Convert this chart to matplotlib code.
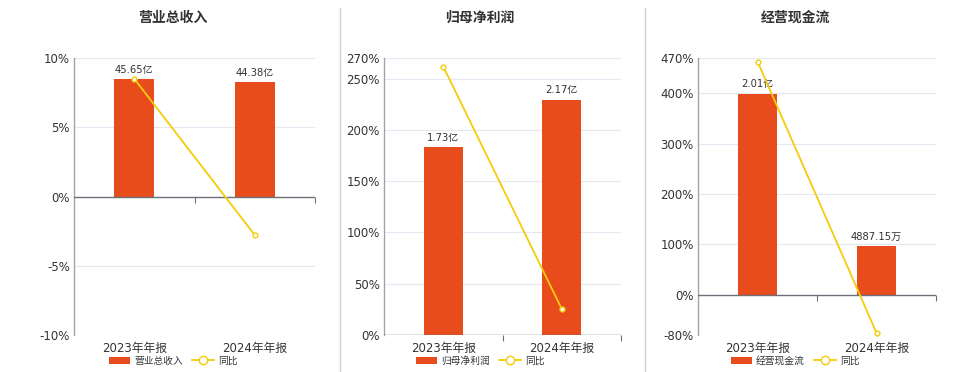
import numpy as np
import matplotlib
matplotlib.use('Agg')
import matplotlib.pyplot as plt
from matplotlib.patches import Patch
from matplotlib.lines import Line2D

plt.rcParams['font.family'] = ['DejaVu Sans', 'Noto Sans CJK SC']
plt.rcParams['axes.unicode_minus'] = False

categories = ['2023年年报', '2024年年报']
titles = ['营业总收入', '归母净利润', '经营现金流']

revenue = [45.65, 44.38]
revenue_labels = ['45.65亿', '44.38亿']
revenue_yoy = [8.5, -2.78]

profit = [1.73, 2.17]
profit_labels = ['1.73亿', '2.17亿']
profit_yoy = [261.7, 25.43]

cash = [2.01, 0.488715]
cash_labels = ['2.01亿', '4887.15万']
cash_yoy = [463.0, -75.69]

ticks_revenue = [-10, -5, 0, 5, 10]
ticks_profit = [0, 50, 100, 150, 200, 250, 270]
ticks_cash = [-80, 0, 100, 200, 300, 400, 470]

bar_color = '#E84C1D'
line_color = '#F5CC0A'
grid_color = '#E3E8F2'
text_color = '#333333'
axis_color = '#6E7079'

fig = plt.figure(figsize=(9.6, 3.72), dpi=100)
W, H = 960, 372

panels = [
    (revenue, revenue_labels, revenue_yoy, ticks_revenue, (74, 315), 173),
    (profit, profit_labels, profit_yoy, ticks_profit, (384, 621), 480),
    (cash, cash_labels, cash_yoy, ticks_cash, (698, 936), 795),
]

x = np.arange(len(categories))
for i, (vals, labels, yoy, ticks, (l, r), cx) in enumerate(panels):
    ax = fig.add_axes([l / W, 1 - 335 / H, (r - l) / W, (335 - 58) / H])
    ymin, ymax = ticks[0], ticks[-1]
    ax.set_ylim(ymin, ymax)
    ax.set_xlim(-0.5, 1.5)
    ax.set_yticks(ticks)
    ax.set_yticklabels([f'{t}%' for t in ticks])
    for t in ticks:
        ax.axhline(t, color=grid_color, lw=0.8, zorder=0)
    for s in ['top', 'right', 'bottom']:
        ax.spines[s].set_visible(False)
    ax.spines['left'].set_color('#A0A4B0')
    ax.spines['left'].set_linewidth(1.0)
    ax.tick_params(axis='y', length=0, labelsize=8.5, colors=text_color, pad=3)
    ax.set_xticks(x)
    ax.set_xticklabels(categories)
    ax.tick_params(axis='x', length=0, labelsize=8.5, colors=text_color, pad=5)

    # bars on a twin scale, zero aligned with the percent axis
    axb = ax.twinx()
    top = max(vals) / 0.85
    axb.set_ylim(top * ymin / ymax, top)
    axb.axis('off')
    axb.bar(x, vals, width=0.33, color=bar_color, zorder=2)
    for xi, v, lab in zip(x, vals, labels):
        axb.annotate(lab, (xi, v), xytext=(0, 3), textcoords='offset points',
                     ha='center', va='bottom', fontsize=7.2, color=text_color)
    axb.axhline(0, color=axis_color, lw=1.0, zorder=3)
    axb.plot([0.5, 1.5], [0, 0], ls='none', marker=3, markersize=4,
             color=axis_color, markeredgewidth=0.8, zorder=3, clip_on=False)
    axb.plot(x, yoy, transform=ax.transData, color=line_color, lw=1.3,
             marker='o', markersize=3.5, markerfacecolor='white',
             markeredgecolor=line_color, markeredgewidth=1.0, zorder=4,
             clip_on=False)

    fig.text(cx / W, 1 - 18 / H, titles[i], ha='center', va='center',
             fontsize=10, fontweight='bold', color=text_color)
    handles = [Patch(facecolor=bar_color, edgecolor='none'),
               Line2D([0], [0], color=line_color, lw=1.3, marker='o',
                      markersize=6, markerfacecolor='white',
                      markeredgecolor=line_color)]
    fig.legend(handles, [titles[i], '同比'], loc='center',
               bbox_to_anchor=(cx / W, 1 - 361 / H), ncol=2, frameon=False,
               fontsize=7, handlelength=2.2, handleheight=0.8,
               handletextpad=0.4, columnspacing=1.0, labelcolor=text_color)

for sx in [340, 645]:
    fig.add_artist(Line2D([sx / W, sx / W], [0, 1 - 8 / H], color='#D0D0D0', lw=1.0))

fig.savefig('out.png', dpi=100)
